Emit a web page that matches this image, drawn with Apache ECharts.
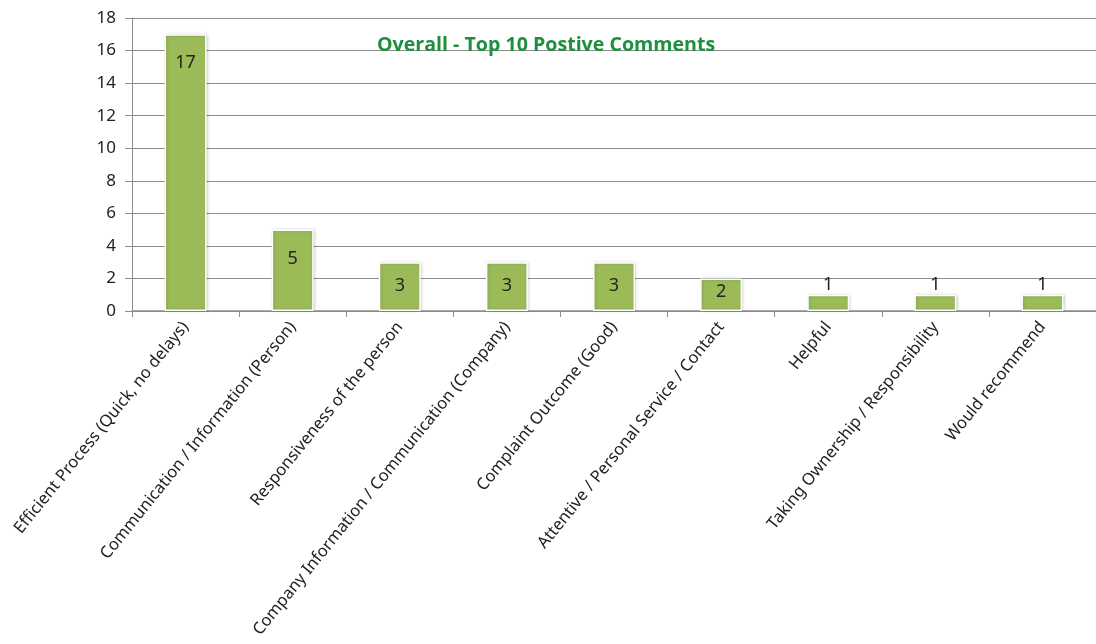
<!DOCTYPE html>
<html><head><meta charset="utf-8">
<script src="https://cdn.jsdelivr.net/npm/echarts@6/dist/echarts.min.js"></script>
<style>html,body{margin:0;padding:0;background:#fff}#c{width:1096px;height:644px}</style>
</head><body><div id="c"></div>
<script>
const categories = ["Efficient Process (Quick, no delays)","Communication / Information (Person)","Responsiveness of the person","Company Information / Communication (Company)","Complaint Outcome (Good)","Attentive / Personal Service / Contact","Helpful","Taking Ownership / Responsibility","Would recommend"];
const values = [17,5,3,3,3,2,1,1,1];
const titleText = "Overall - Top 10 Postive Comments";

const chart = echarts.init(document.getElementById('c'));
chart.setOption({
  animation:false,
  title:{text:titleText,left:372,top:30,textStyle:{color:'#1E8F3E',fontSize:19.6,fontWeight:'bold',fontFamily:'Open Sans'}},
  grid:{left:132,right:-9,top:18,bottom:333,containLabel:false},
  xAxis:{type:'category',data:categories,
    axisLine:{lineStyle:{color:'#8c8c8c',width:1.5}},
    axisTick:{show:true,length:6,lineStyle:{color:'#8c8c8c'}},
    axisLabel:{rotate:51,interval:0,margin:13,color:'#222',fontSize:16.5,fontFamily:'Noto Sans'}},
  yAxis:{type:'value',min:0,max:18,interval:2,
    axisLine:{show:true,lineStyle:{color:'#8c8c8c'}},
    axisTick:{show:true,length:7,inside:false,lineStyle:{color:'#8c8c8c'}},
    splitLine:{lineStyle:{color:'#8c8c8c',width:1}},
    axisLabel:{color:'#222',fontSize:17,fontFamily:'Noto Sans',margin:16}},
  series:[{type:'bar',barWidth:42,
    data:values.map(v=>({value:v,label:{position:v>=2?'insideTop':'top',distance:v>=4?20:(v>=3?15:(v>=2?4:1))}})),
    itemStyle:{color:'#9BBB59',borderColor:'#ffffff',borderWidth:1.5,shadowColor:'rgba(0,0,0,0.18)',shadowBlur:3,shadowOffsetX:1},
    label:{show:true,color:'#222',fontSize:18,fontFamily:'Noto Sans'}}]
});
</script></body></html>
